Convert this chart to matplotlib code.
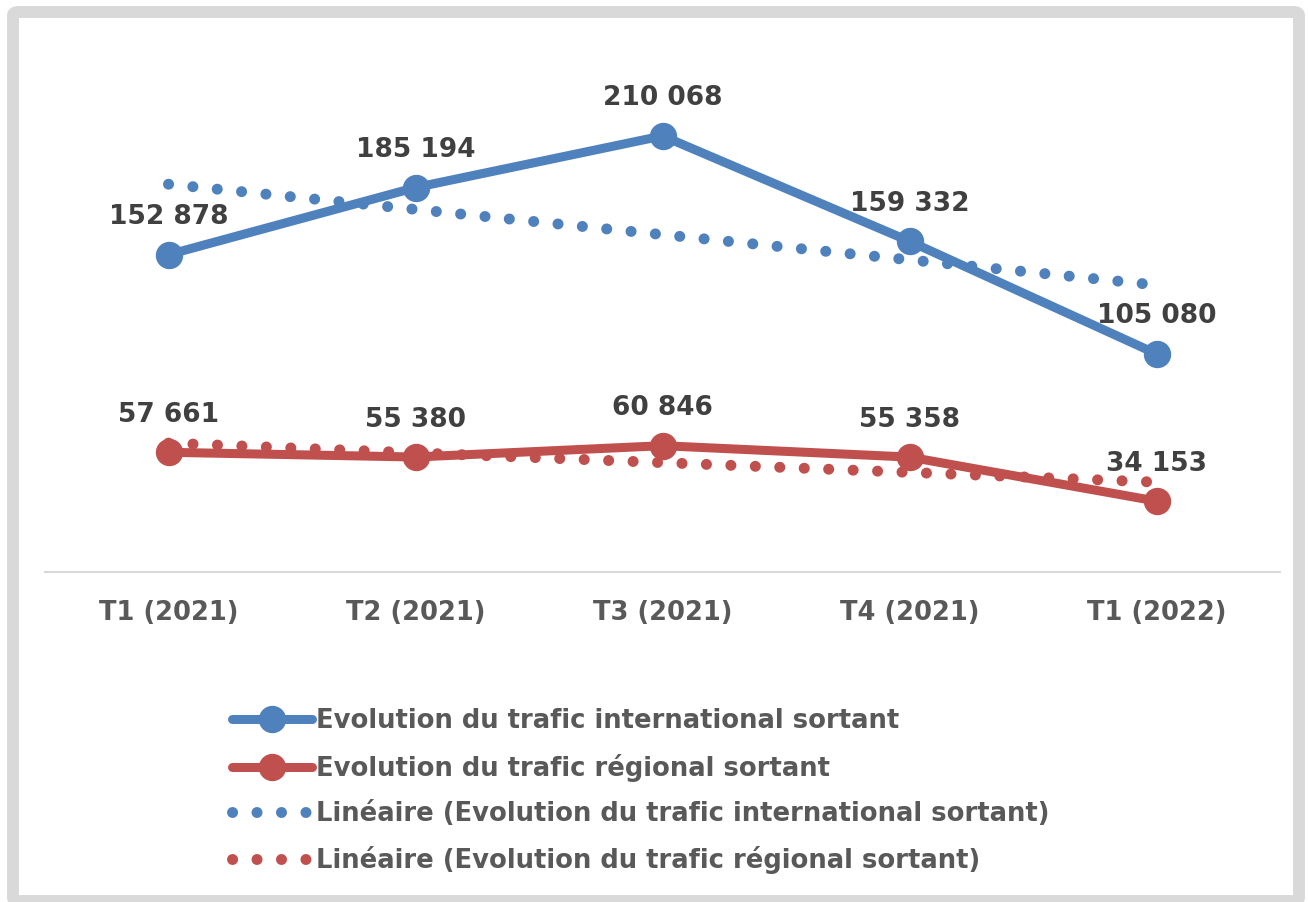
import numpy as np
import matplotlib.pyplot as plt
from matplotlib.patches import FancyBboxPatch

# Data
quarters = ['T1 (2021)', 'T2 (2021)', 'T3 (2021)', 'T4 (2021)', 'T1 (2022)']
international = [152878, 185194, 210068, 159332, 105080]
regional = [57661, 55380, 60846, 55358, 34153]

blue = '#4f81bd'
red = '#c0504d'
label_color = '#404040'
text_color = '#595959'

plt.rcParams['font.family'] = 'DejaVu Sans'
plt.rcParams['font.weight'] = 'bold'

fig = plt.figure(figsize=(13.08, 9.02), dpi=100)
ax = fig.add_axes([45 / 1308, 1 - 572 / 902, (1280 - 45) / 1308, (572 - 53) / 902])

x = np.arange(len(quarters))


def fmt(v):
    return f'{v:,}'.replace(',', ' ')


# linear trendlines (like Excel "Linéaire")
trend_int = np.polyval(np.polyfit(x, international, 1), x)
trend_reg = np.polyval(np.polyfit(x, regional, 1), x)

l1, = ax.plot(x, international, color=blue, lw=6.5, marker='o', ms=18.7,
              solid_capstyle='round', zorder=3)
l2, = ax.plot(x, regional, color=red, lw=6.5, marker='o', ms=18.7,
              solid_capstyle='round', zorder=3)
t1, = ax.plot(x, trend_int, color=blue, lw=7.9, dashes=(0.01, 2.22),
              dash_capstyle='round', zorder=2)
t2, = ax.plot(x, trend_reg, color=red, lw=7.9, dashes=(0.01, 2.22),
              dash_capstyle='round', zorder=2)

for xi, v in zip(x, international):
    ax.annotate(fmt(v), (xi, v), xytext=(0, 27), textcoords='offset points',
                ha='center', va='center', fontsize=19, fontweight='bold',
                color=label_color, zorder=4)
for xi, v in zip(x, regional):
    ax.annotate(fmt(v), (xi, v), xytext=(0, 27), textcoords='offset points',
                ha='center', va='center', fontsize=19, fontweight='bold',
                color=label_color, zorder=4)

ax.set_xlim(-0.5, len(quarters) - 0.5)
ax.set_ylim(0, 250000)
ax.set_xticks(x)
ax.set_xticklabels(quarters, fontsize=18.5, fontweight='bold', color=text_color)
ax.tick_params(axis='x', length=0, pad=20)
ax.set_yticks([])
for side in ['top', 'right', 'left']:
    ax.spines[side].set_visible(False)
ax.spines['bottom'].set_color('#d9d9d9')
ax.spines['bottom'].set_linewidth(1.5)

leg = fig.legend([l1, l2, t1, t2],
                 ['Evolution du trafic international sortant',
                  'Evolution du trafic régional sortant',
                  'Linéaire (Evolution du trafic international sortant)',
                  'Linéaire (Evolution du trafic régional sortant)'],
                 loc='upper left', bbox_to_anchor=(222 / 1308, 1 - 698 / 902),
                 frameon=False, fontsize=18.6, handlelength=3.1,
                 handletextpad=0.12, labelspacing=0.75, borderaxespad=0)
for txt in leg.get_texts():
    txt.set_color(text_color)
    txt.set_fontweight('bold')

# light grey chart frame
frame = FancyBboxPatch((13 / 1308, 1 / 902), 1286 / 1308, 889 / 902,
                       boxstyle='round,pad=0,rounding_size=0.004',
                       transform=fig.transFigure, fill=False,
                       edgecolor='#d9d9d9', lw=8.6, zorder=0)
fig.patches.append(frame)

plt.savefig('out.png', dpi=100)
